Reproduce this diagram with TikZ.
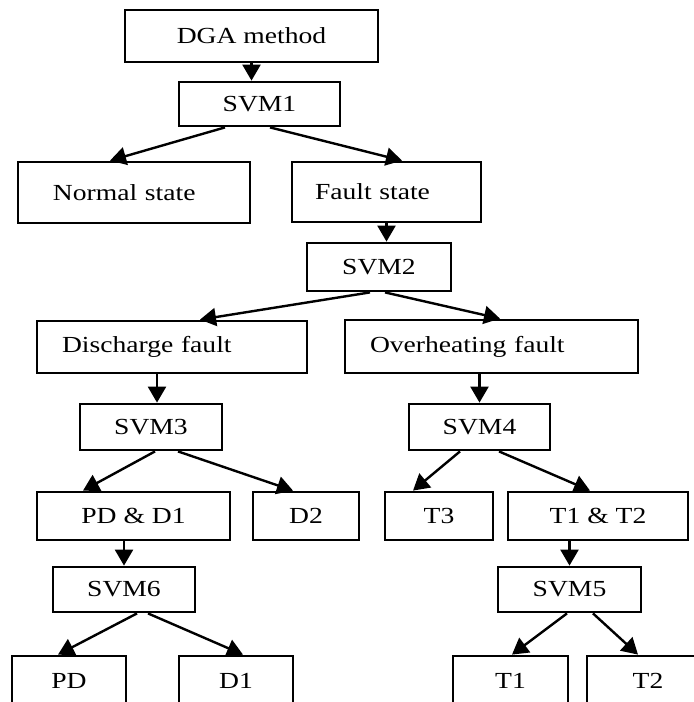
\documentclass[tikz,border=0pt]{standalone}
\usepackage{fontspec}
\setmainfont{Liberation Serif}[FakeStretch=1.2]
\usetikzlibrary{arrows.meta}

\begin{document}
\begin{tikzpicture}[x=0.5pt, y=-0.5pt,
	box/.style={draw, line width=1.4pt, inner sep=0pt, font=\fontsize{11.5}{13}\selectfont},
	lbox/.style={box, align=left, inner xsep=12.5pt},
	arr/.style={-{Triangle[length=8pt,width=9pt]}, line width=1.2pt}]
	\useasboundingbox (0,0) rectangle (694,702);
	\clip (0,0) rectangle (694,702);
	\node[box, minimum width=126.5pt, minimum height=26pt] (dga) at (251.5,36) {DGA method};
	\node[box, minimum width=80.5pt, minimum height=22pt] (svm1) at (259.5,104) {SVM1};
	\node[lbox, inner xsep=17.5pt, text width=81pt, minimum height=30.5pt] (normal) at (134,192.5) {Normal state};
	\node[lbox, inner xsep=11.5pt, text width=71.5pt, minimum height=30pt] (fault) at (386.5,192) {Fault state};
	\node[box, minimum width=72pt, minimum height=24pt] (svm2) at (379,267) {SVM2};
	\node[lbox, text width=110pt, minimum height=26pt] (discharge) at (172,347) {Discharge fault};
	\node[lbox, text width=121.5pt, minimum height=26.5pt] (overheat) at (491.5,346.5) {Overheating fault};
	\node[box, minimum width=71pt, minimum height=23pt] (svm3) at (151,427) {SVM3};
	\node[box, minimum width=70.5pt, minimum height=23pt] (svm4) at (479.5,427) {SVM4};
	\node[box, minimum width=96.5pt, minimum height=24pt] (pdd1) at (133.5,516) {PD \& D1};
	\node[box, minimum width=53pt, minimum height=24pt] (d2) at (306,516) {D2};
	\node[box, minimum width=54pt, minimum height=24pt] (t3) at (439,516) {T3};
	\node[box, minimum width=90pt, minimum height=24pt] (t1t2) at (598,516) {T1 \& T2};
	\node[box, minimum width=71pt, minimum height=22.5pt] (svm6) at (124,589.5) {SVM6};
	\node[box, minimum width=71.5pt, minimum height=22.5pt] (svm5) at (569.5,589.5) {SVM5};
	\node[box, minimum width=57pt, minimum height=24.5pt] (pd) at (69,680.5) {PD};
	\node[box, minimum width=57pt, minimum height=24.5pt] (d1) at (236,680.5) {D1};
	\node[box, minimum width=57.5pt, minimum height=24.5pt] (t1) at (510.5,680.5) {T1};
	\node[box, minimum width=61pt, minimum height=24.5pt] (t2) at (648,680.5) {T2};

	\draw[arr] (dga.south) -- (dga.south |- svm1.north);
	\draw[arr] ([xshift=-17.25pt]svm1.south) -- ([xshift=-12pt]normal.north);
	\draw[arr] ([xshift=5.25pt]svm1.south) -- ([xshift=7.75pt]fault.north);
	\draw[arr] (fault.south) -- (fault.south |- svm2.north);
	\draw[arr] ([xshift=-4.5pt]svm2.south) -- ([xshift=14pt]discharge.north);
	\draw[arr] ([xshift=3pt]svm2.south) -- ([xshift=4.25pt]overheat.north);
	\draw[arr] ([xshift=3pt]svm3.north |- discharge.south) -- ([xshift=3pt]svm3.north);
	\draw[arr] (svm4.north |- overheat.south) -- (svm4.north);
	\draw[arr] ([xshift=2pt]svm3.south) -- ([xshift=-25.25pt]pdd1.north);
	\draw[arr] ([xshift=13.5pt]svm3.south) -- ([xshift=-6.5pt]d2.north);
	\draw[arr] ([xshift=-9.75pt]svm4.south) -- ([xshift=-13pt]t3.north);
	\draw[arr] ([xshift=9.75pt]svm4.south) -- ([xshift=-4pt]t1t2.north);
	\draw[arr] (svm6.north |- pdd1.south) -- (svm6.north);
	\draw[arr] (svm5.north |- t1t2.south) -- (svm5.north);
	\draw[arr] ([xshift=6.5pt]svm6.south) -- ([xshift=-5.5pt]pd.north);
	\draw[arr] ([xshift=12pt]svm6.south) -- ([xshift=3.5pt]d1.north);
	\draw[arr] ([xshift=-1.25pt]svm5.south) -- ([xshift=0.75pt]t1.north);
	\draw[arr] ([xshift=11.75pt]svm5.south) -- ([xshift=-5pt]t2.north);
\end{tikzpicture}
\end{document}
